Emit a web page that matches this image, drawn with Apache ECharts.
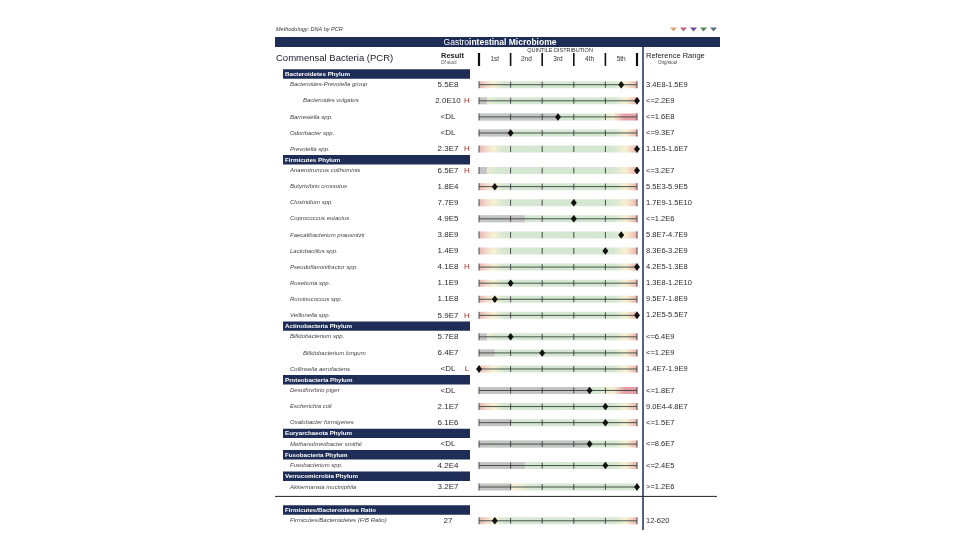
<!DOCTYPE html>
<html><head><meta charset="utf-8">
<script src="https://cdn.jsdelivr.net/npm/echarts@6/dist/echarts.min.js"></script>
<style>html,body{margin:0;padding:0;background:#fff}#c{width:960px;height:540px}</style>
</head><body><div id="c"></div>
<script>
// ---------------- data ----------------
const groupNames = ['Bacteroidetes Phylum','Firmicutes Phylum','Actinobacteria Phylum','Proteobacteria Phylum','Euryarchaeota Phylum','Fusobacteria Phylum','Verrucomicrobia Phylum','Firmicutes/Bacteroidetes Ratio'];
const groupSizes = [5,10,3,3,1,1,1,1];
const organisms = ['Bacteroides-Prevotella group','Bacteroides vulgatus','Barnesiella spp.','Odoribacter spp.','Prevotella spp.',
  'Anaerotruncus colihominis','Butyrivibrio crossotus','Clostridium spp.','Coprococcus eutactus','Faecalibacterium prausnitzii','Lactobacillus spp.','Pseudoflavonifractor spp.','Roseburia spp.','Ruminococcus spp.','Veillonella spp.',
  'Bifidobacterium spp.','Bifidobacterium longum','Collinsella aerofaciens',
  'Desulfovibrio piger','Escherichia coli','Oxalobacter formigenes',
  'Methanobrevibacter smithii','Fusobacterium spp.','Akkermansia muciniphila','Firmicutes/Bacteroidetes (F/B Ratio)'];
const indented = [false,true,false,false,false, false,false,false,false,false,false,false,false,false,false, false,true,false, false,false,false, false,false,false,false];
const results = ['5.5E8','2.0E10','<DL','<DL','2.3E7', '6.5E7','1.8E4','7.7E9','4.9E5','3.8E9','1.4E9','4.1E8','1.1E9','1.1E8','5.9E7', '5.7E8','6.4E7','<DL', '<DL','2.1E7','6.1E6', '<DL','4.2E4','3.2E7','27'];
const flags = ['','H','','','H', 'H','','','','','','H','','','H', '','','L', '','','', '','','',''];
const refRanges = ['3.4E8-1.5E9','<=2.2E9','<=1.6E8','<=9.3E7','1.1E5-1.6E7',
  '<=3.2E7','5.5E3-5.9E5','1.7E9-1.5E10','<=1.2E6','5.8E7-4.7E9','8.3E6-3.2E9','4.2E5-1.3E8','1.3E8-1.2E10','9.5E7-1.8E9','1.2E5-5.5E7',
  '<=6.4E9','<=1.2E9','1.4E7-1.9E9', '<=1.8E7','9.0E4-4.8E7','<=1.5E7', '<=8.6E7','<=2.4E5','>=1.2E6','12-620'];
// position of the result on the quintile scale (0..5)
const quintilePos = [4.5,5,2.5,1,5, 5,0.5,3,3,4.5,4,5,1,0.5,5, 1,2,0, 3.5,4,4, 3.5,4,5,0.5];
// extent of the "below detection" grey zone on the quintile scale
const belowDetection = [0,0.25,2.5,1,0, 0.25,0,0,1.45,0,0,0,0,0,0, 0.25,0.5,0, 3.5,0,1, 3.5,1.45,1,0];
// band type: R two-sided range, U upper limit, U2 upper limit (strong), L lower limit
const bandTypes = ['R','U','U2','U','R', 'U','R','R','U','R','R','R','R','R','R', 'U','U','R', 'U2','R','U', 'U','U','L','R'];
const showLine = [1,1,1,1,0, 0,1,0,1,0,0,1,1,1,1, 1,1,1, 1,1,1, 1,1,1,1];
const quintileLabels = ['1st','2nd','3rd','4th','5th'];

// ---------------- layout (structure) ----------------
const HEADER_U = 1, ROW_U = 3, SEP_U = 2.3;
const headerY = [], rowY = [];
let cum = 0, sepY = 0;
groupNames.forEach((g, gi) => {
  if (gi === groupNames.length - 1) { sepY = cum + 0.25; cum += SEP_U; }
  headerY.push(cum + HEADER_U / 2); cum += HEADER_U;
  for (let k = 0; k < groupSizes[gi]; k++) { rowY.push(cum + ROW_U / 2); cum += ROW_U; }
});

const NAVY = '#1e2d56';
const GREEN = '#d5e7d2', YEL = '#f7f0d2', PINK = '#ebb4b2', RED = '#e79ea6', GRAY = '#c4c4c4';
const STOPS = {
  R: [[0, PINK], [0.04, '#f1d6c8'], [0.09, YEL], [0.16, GREEN], [0.85, GREEN], [0.93, YEL], [1, PINK]],
  U: [[0, YEL], [0.12, GREEN], [0.85, GREEN], [0.93, YEL], [1, PINK]],
  U2: [[0, GREEN], [0.76, GREEN], [0.85, YEL], [0.92, RED], [1, RED]],
  L: [[0, YEL], [0.22, YEL], [0.34, GREEN], [1, GREEN]]
};
const FONT = 'Liberation Sans, Arial, sans-serif';

function grad(t) {
  return { type: 'linear', x: 0, y: 0, x2: 1, y2: 0, colorStops: STOPS[t].map(s => ({ offset: s[0], color: s[1] })) };
}

function renderBand(params, api) {
  const i = params.dataIndex;
  const yv = api.value(1);
  const p0 = api.coord([0, yv]), p5 = api.coord([5, yv]);
  const y = p0[1], h = 7;
  const ch = [];
  ch.push({ type: 'rect', shape: { x: p0[0], y: y - h / 2, width: p5[0] - p0[0], height: h }, style: { fill: grad(bandTypes[i]) } });
  if (belowDetection[i] > 0) {
    const pg = api.coord([belowDetection[i], yv]);
    ch.push({ type: 'rect', shape: { x: p0[0], y: y - h / 2, width: pg[0] - p0[0], height: h }, style: { fill: GRAY } });
  }
  if (showLine[i]) {
    ch.push({ type: 'line', shape: { x1: p0[0], y1: y, x2: p5[0], y2: y }, style: { stroke: '#34443a', lineWidth: 0.9 } });
  }
  for (let k = 0; k <= 5; k++) {
    const pk = api.coord([k, yv]);
    const hh = (k === 0 || k === 5) ? 3.5 : 3;
    ch.push({ type: 'line', shape: { x1: pk[0], y1: y - hh, x2: pk[0], y2: y + hh }, style: { stroke: '#3a3a3a', lineWidth: 0.9 } });
  }
  return { type: 'group', children: ch };
}

function renderRowText(params, api) {
  const i = params.dataIndex;
  const y = api.coord([0, api.value(1)])[1];
  const base = { fontFamily: FONT, verticalAlign: 'middle' };
  return { type: 'group', children: [
    { type: 'text', x: indented[i] ? 303 : 290, y: y, style: Object.assign({ text: organisms[i], fontSize: 6, fontStyle: 'italic', fill: '#444', align: 'left' }, base) },
    { type: 'text', x: 448, y: y, style: Object.assign({ text: results[i], fontSize: 8, fill: '#2a2a2a', align: 'center' }, base) },
    { type: 'text', x: 467, y: y, style: Object.assign({ text: flags[i], fontSize: 8, fill: '#a83232', align: 'center' }, base) },
    { type: 'text', x: 646, y: y, style: Object.assign({ text: refRanges[i], fontSize: 7.5, fill: '#2a2a2a', align: 'left' }, base) }
  ]};
}

function renderHeader(params, api) {
  const i = params.dataIndex;
  const y = api.coord([0, api.value(1)])[1];
  return { type: 'group', children: [
    { type: 'rect', shape: { x: 283, y: y - 4.7, width: 187, height: 9.4 }, style: { fill: NAVY } },
    { type: 'text', x: 285, y: y + 0.3, style: { text: groupNames[i], fontFamily: FONT, fontSize: 6.2, fontWeight: 'bold', fill: '#fff', verticalAlign: 'middle' } }
  ]};
}

function renderQuintileHeader(params, api) {
  const k = params.dataIndex;
  const pc = api.coord([api.value(0), 0]);
  const pl = api.coord([k, 0]);
  const ch = [
    { type: 'text', x: pc[0], y: 59.5, style: { text: quintileLabels[k], fontFamily: FONT, fontSize: 6.5, fill: '#333', align: 'center', verticalAlign: 'middle' } },
    { type: 'line', shape: { x1: pl[0], y1: 53, x2: pl[0], y2: 66 }, style: { stroke: '#111', lineWidth: k === 0 ? 2.2 : 1.6 } }
  ];
  if (k === quintileLabels.length - 1) {
    const pr = api.coord([k + 1, 0]);
    ch.push({ type: 'line', shape: { x1: pr[0], y1: 53, x2: pr[0], y2: 66 }, style: { stroke: '#111', lineWidth: 2.2 } });
  }
  return { type: 'group', children: ch };
}

function renderSeparator(params, api) {
  const y = api.coord([0, api.value(1)])[1];
  return { type: 'line', shape: { x1: 275, y1: y, x2: 717, y2: y }, style: { stroke: '#222', lineWidth: 1 } };
}

const chart = echarts.init(document.getElementById('c'), null, { renderer: 'canvas' });
const triColors = ['#d9a46e', '#c8647a', '#6a4c93', '#4e8a5a', '#5a6e8c'];

chart.setOption({
  animation: false,
  backgroundColor: '#fff',
  grid: { left: 479, width: 158, top: 71.3, height: 461.3, containLabel: false },
  xAxis: { type: 'value', min: 0, max: 5, show: false },
  yAxis: { type: 'value', min: 0, max: 86, inverse: true, show: false },
  graphic: [
    { type: 'text', left: 276, top: 26, style: { text: 'Methodology: DNA by PCR', fontFamily: FONT, fontSize: 5.5, fontStyle: 'italic', fill: '#333' } },
    ...triColors.map((c, j) => ({ type: 'polygon', shape: { points: [[670 + j * 10, 27.5], [677 + j * 10, 27.5], [673.5 + j * 10, 31.5]] }, style: { fill: c } })),
    { type: 'rect', shape: { x: 275, y: 37, width: 445, height: 10 }, style: { fill: NAVY } },
    { type: 'text', x: 500, y: 42.3, style: { text: '{a|Gastro}{b|intestinal Microbiome}', align: 'center', verticalAlign: 'middle',
        rich: { a: { fontFamily: FONT, fontSize: 8.5, fill: '#fff' }, b: { fontFamily: FONT, fontSize: 8.5, fontWeight: 'bold', fill: '#fff' } } } },
    { type: 'text', x: 276, y: 58.5, style: { text: 'Commensal Bacteria (PCR)', fontFamily: FONT, fontSize: 9.5, fill: '#1a1a2a', verticalAlign: 'middle' } },
    { type: 'text', x: 441, y: 55.5, style: { text: 'Result', fontFamily: FONT, fontSize: 7.5, fontWeight: 'bold', fill: '#222', verticalAlign: 'middle' } },
    { type: 'text', x: 441, y: 63, style: { text: 'Of stool', fontFamily: FONT, fontSize: 4.5, fill: '#444', verticalAlign: 'middle' } },
    { type: 'text', x: 560, y: 50, style: { text: 'QUINTILE DISTRIBUTION', fontFamily: FONT, fontSize: 5.5, fill: '#333', align: 'center', verticalAlign: 'middle' } },
    { type: 'text', x: 646, y: 56, style: { text: 'Reference Range', fontFamily: FONT, fontSize: 7.5, fill: '#222', verticalAlign: 'middle' } },
    { type: 'text', x: 658, y: 63, style: { text: 'Orig/stool', fontFamily: FONT, fontSize: 4.5, fill: '#444', verticalAlign: 'middle' } },
    { type: 'line', shape: { x1: 643, y1: 47, x2: 643, y2: 530 }, style: { stroke: NAVY, lineWidth: 1.5 } }
  ],
  series: [
    { type: 'custom', name: 'bands', renderItem: renderBand, data: rowY.map(y => [0, y]), z: 2, silent: true },
    { type: 'custom', name: 'headers', renderItem: renderHeader, data: headerY.map(y => [0, y]), z: 2, silent: true },
    { type: 'custom', name: 'rowText', renderItem: renderRowText, data: rowY.map(y => [0, y]), z: 3, silent: true },
    { type: 'custom', name: 'quintiles', renderItem: renderQuintileHeader, data: quintileLabels.map((l, k) => [k + 0.5, 0]), z: 3, silent: true },
    { type: 'custom', name: 'separator', renderItem: renderSeparator, data: [[0, sepY]], z: 3, silent: true },
    { type: 'scatter', name: 'result', data: quintilePos.map((q, i) => [q, rowY[i]]), symbol: 'diamond', symbolSize: [6, 7.5],
      itemStyle: { color: '#111', opacity: 1 }, z: 5, silent: true }
  ]
});
</script></body></html>
